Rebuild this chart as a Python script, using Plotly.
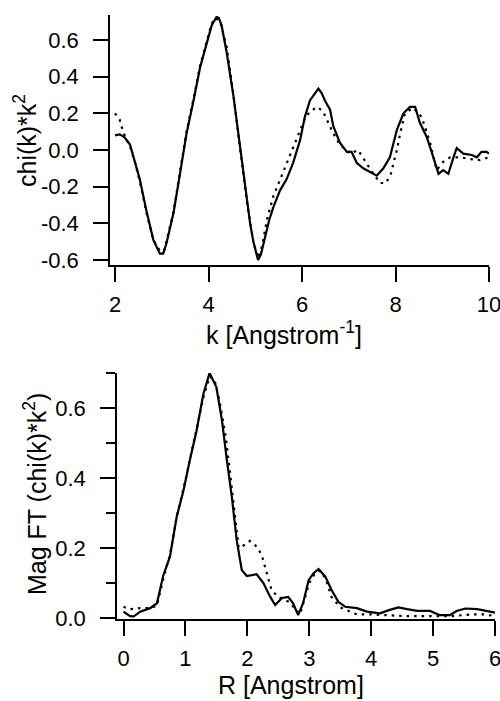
import plotly.graph_objects as go

# ---- top panel: chi(k)*k^2 vs k ----
k_data = [2.00, 2.10, 2.20, 2.32, 2.42, 2.53, 2.68, 2.82, 2.96, 3.03, 3.10, 3.25, 3.39, 3.53,
          3.68, 3.82, 3.96, 4.07, 4.17, 4.22, 4.28, 4.39, 4.53, 4.67, 4.82, 4.89, 4.96, 5.06,
          5.12, 5.20, 5.30, 5.39, 5.53, 5.67, 5.81, 5.96, 6.06, 6.17, 6.27, 6.35, 6.42, 6.49,
          6.60, 6.67, 6.81, 6.96, 7.06, 7.17, 7.31, 7.45, 7.60, 7.74, 7.88, 8.03, 8.17, 8.31,
          8.42, 8.52, 8.67, 8.81, 8.92, 9.02, 9.13, 9.24, 9.31, 9.45, 9.63, 9.74, 9.84, 9.95, 10.0]
chi_data = [0.08, 0.085, 0.07, 0.03, -0.06, -0.16, -0.34, -0.49, -0.565, -0.565, -0.51, -0.345,
            -0.13, 0.09, 0.27, 0.45, 0.58, 0.68, 0.725, 0.72, 0.68, 0.53, 0.30, 0.03, -0.27,
            -0.40, -0.50, -0.60, -0.57, -0.48, -0.38, -0.31, -0.22, -0.16, -0.07, 0.055, 0.18,
            0.27, 0.31, 0.335, 0.31, 0.27, 0.22, 0.13, 0.04, -0.01, -0.01, -0.07, -0.10, -0.12,
            -0.14, -0.10, -0.04, 0.11, 0.20, 0.235, 0.235, 0.15, 0.07, -0.04, -0.13, -0.11,
            -0.13, -0.04, 0.01, -0.02, -0.027, -0.04, -0.01, -0.01, -0.02]

k_fit = [2.00, 2.10, 2.15, 2.22, 2.32, 2.42, 2.53, 2.68, 2.82, 2.96, 3.05, 3.10, 3.25, 3.39,
         3.53, 3.68, 3.82, 3.96, 4.07, 4.15, 4.25, 4.39, 4.53, 4.67, 4.82, 4.96, 5.06, 5.15,
         5.25, 5.39, 5.53, 5.67, 5.78, 5.96, 6.06, 6.17, 6.33, 6.45, 6.56, 6.67, 6.81, 7.03,
         7.20, 7.35, 7.50, 7.67, 7.80, 7.90, 8.03, 8.10, 8.20, 8.38, 8.56, 8.74, 8.88, 9.02,
         9.17, 9.40, 9.60, 9.80, 10.0]
chi_fit = [0.20, 0.165, 0.12, 0.07, 0.02, -0.06, -0.17, -0.35, -0.49, -0.55, -0.55, -0.50,
           -0.34, -0.12, 0.10, 0.28, 0.46, 0.59, 0.69, 0.72, 0.70, 0.56, 0.31, 0.02, -0.28,
           -0.50, -0.59, -0.52, -0.38, -0.25, -0.16, -0.08, 0.0, 0.11, 0.17, 0.21, 0.235, 0.21,
           0.15, 0.09, 0.03, -0.02, 0.0, -0.06, -0.12, -0.18, -0.18, -0.13, 0.0, 0.09, 0.20,
           0.23, 0.18, 0.04, -0.11, -0.065, -0.04, -0.04, -0.05, -0.055, -0.04]

k_ticks = [2, 4, 6, 8, 10]
chi_ticks = [-0.6, -0.4, -0.2, 0.0, 0.2, 0.4, 0.6]
chi_ticktext = ["-0.6", "-0.4", "-0.2", "0.0", "0.2", "0.4", "0.6"]

# ---- bottom panel: |FT| vs R ----
r_data = [0.00, 0.10, 0.16, 0.27, 0.43, 0.54, 0.64, 0.75, 0.86, 0.97, 1.07, 1.18, 1.29, 1.39,
          1.50, 1.59, 1.67, 1.75, 1.83, 1.91, 1.99, 2.04, 2.15, 2.26, 2.37, 2.45, 2.56, 2.66,
          2.74, 2.82, 2.90, 2.99, 3.07, 3.15, 3.26, 3.36, 3.47, 3.58, 3.77, 3.93, 4.14, 4.30,
          4.44, 4.58, 4.74, 4.95, 5.11, 5.27, 5.38, 5.52, 5.71, 5.92, 6.00]
ft_data = [0.018, 0.006, 0.004, 0.018, 0.028, 0.042, 0.12, 0.175, 0.29, 0.365, 0.45, 0.535,
           0.64, 0.70, 0.66, 0.565, 0.45, 0.345, 0.22, 0.137, 0.12, 0.122, 0.125, 0.10, 0.06,
           0.037, 0.057, 0.06, 0.042, 0.008, 0.042, 0.108, 0.128, 0.14, 0.118, 0.08, 0.046,
           0.032, 0.028, 0.018, 0.013, 0.023, 0.03, 0.025, 0.02, 0.02, 0.008, 0.008, 0.02,
           0.027, 0.025, 0.018, 0.015]

r_fit = [0.00, 0.10, 0.27, 0.43, 0.54, 0.64, 0.75, 0.86, 0.97, 1.07, 1.18, 1.29, 1.39, 1.47,
         1.55, 1.65, 1.73, 1.80, 1.86, 1.97, 2.04, 2.12, 2.20, 2.24, 2.31, 2.39, 2.50, 2.68,
         2.85, 2.93, 3.00, 3.10, 3.18, 3.27, 3.36, 3.50, 3.77, 4.00, 4.30, 4.60, 5.00, 5.30,
         5.60, 5.85, 6.00]
ft_fit = [0.032, 0.025, 0.028, 0.028, 0.035, 0.11, 0.18, 0.29, 0.37, 0.45, 0.54, 0.63, 0.69,
          0.68, 0.62, 0.52, 0.40, 0.29, 0.20, 0.21, 0.22, 0.21, 0.19, 0.175, 0.13, 0.08, 0.06,
          0.045, 0.01, 0.06, 0.10, 0.13, 0.135, 0.11, 0.06, 0.03, 0.01, 0.01, 0.008, 0.005,
          0.005, 0.005, 0.01, 0.01, 0.005]

r_ticks = [0, 1, 2, 3, 4, 5, 6]
ft_ticks = [0.0, 0.2, 0.4, 0.6]
ft_ticktext = ["0.0", "0.2", "0.4", "0.6"]

FONT = "Liberation Sans, Arial, sans-serif"
W, H = 500, 701

fig = go.Figure()
fig.add_trace(go.Scatter(x=k_data, y=chi_data, mode="lines", xaxis="x", yaxis="y",
                         line=dict(color="black", width=2.2), name="data"))
fig.add_trace(go.Scatter(x=k_fit, y=chi_fit, mode="lines", xaxis="x", yaxis="y",
                         line=dict(color="black", width=2.2, dash="2.5px,5px"), name="fit"))
fig.add_trace(go.Scatter(x=r_data, y=ft_data, mode="lines", xaxis="x2", yaxis="y2",
                         line=dict(color="black", width=2.2), name="data FT"))
fig.add_trace(go.Scatter(x=r_fit, y=ft_fit, mode="lines", xaxis="x2", yaxis="y2",
                         line=dict(color="black", width=2.2, dash="2.5px,5px"), name="fit FT"))

axis_common = dict(showline=True, linecolor="black", linewidth=1.5, ticks="outside",
                   ticklen=15, tickwidth=1.5, tickcolor="black", showgrid=False,
                   zeroline=False, automargin=False, ticklabeloverflow="allow",
                   tickfont=dict(family=FONT, size=22, color="black"))

fig.update_layout(
    width=W, height=H, template="none",
    margin=dict(l=0, r=0, t=0, b=0),
    paper_bgcolor="white", plot_bgcolor="white", showlegend=False,
    font=dict(family=FONT, size=22, color="black"),
    xaxis=dict(domain=[110 / W, 489 / W], range=[1.893, 10], anchor="y",
               tickvals=k_ticks, ticklabelstandoff=4, **axis_common),
    yaxis=dict(domain=[(H - 265) / H, (H - 15) / H], range=[-0.627, 0.736], anchor="x",
               tickvals=chi_ticks, ticktext=chi_ticktext, ticklabelstandoff=10, **axis_common),
    xaxis2=dict(domain=[117 / W, 495 / W], range=[-0.105, 6], anchor="y2",
                tickvals=r_ticks, ticklabelstandoff=4, **axis_common),
    yaxis2=dict(domain=[(H - 619) / H, (H - 373) / H], range=[-0.003, 0.70], anchor="x2",
                tickvals=ft_ticks, ticktext=ft_ticktext, ticklabelstandoff=10,
                minor=dict(dtick=0.1, tick0=0, ticks="outside", ticklen=9, tickwidth=1.5,
                           tickcolor="black", showgrid=False),
                **axis_common),
)

title_font = dict(family=FONT, size=25, color="black")
fig.add_annotation(text="k [Angstrom<sup>-1</sup>]", xref="paper", yref="paper",
                   x=283.5 / W, y=(H - 333) / H, xanchor="center", yanchor="middle",
                   showarrow=False, font=title_font)
fig.add_annotation(text="R [Angstrom]", xref="paper", yref="paper",
                   x=290.5 / W, y=0, xanchor="center", yanchor="bottom",
                   showarrow=False, font=title_font)
fig.add_annotation(text="chi(k)*k<sup>2</sup>", xref="paper", yref="paper",
                   x=25 / W, y=(H - 141) / H, xanchor="center", yanchor="middle",
                   textangle=-90, showarrow=False, font=title_font)
fig.add_annotation(text="Mag FT (chi(k)*k<sup>2</sup>)", xref="paper", yref="paper",
                   x=35 / W, y=(H - 494) / H, xanchor="center", yanchor="middle",
                   textangle=-90, showarrow=False, font=title_font)

fig.write_html("out.html", config={"displayModeBar": False},
               post_script="document.body.style.margin='0px';document.body.style.overflow='hidden';")
